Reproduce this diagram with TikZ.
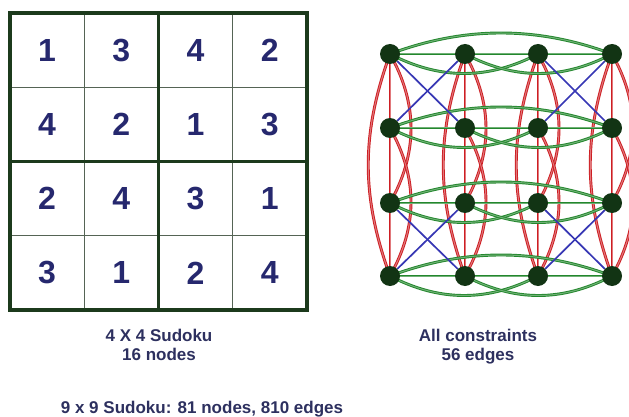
\documentclass[tikz,border=0pt]{standalone}
\usepackage{fontspec}
\setmainfont{Liberation Sans}
\usetikzlibrary{backgrounds,calc}
\definecolor{gridgreen}{RGB}{28,58,28}
\definecolor{thingrid}{RGB}{85,100,85}
\definecolor{digitblue}{RGB}{38,40,110}
\definecolor{labelblue}{RGB}{45,48,95}
\definecolor{vertexgreen}{RGB}{18,52,20}
\definecolor{rowgreen}{RGB}{35,135,45}
\definecolor{colred}{RGB}{205,30,35}
\definecolor{boxblue}{RGB}{55,55,180}
\begin{document}
\begin{tikzpicture}[x=1pt,y=-1pt,
  vertex/.style={circle,fill=vertexgreen,minimum size=20pt,inner sep=0pt},
  rowedge/.style={draw=rowgreen,line width=0.95pt,double=rowgreen!65,double distance=1pt},
  coledge/.style={draw=colred,line width=0.95pt,double=colred!60,double distance=1pt},
  boxedge/.style={draw=boxblue,line width=1.7pt},
  digit/.style={font=\fontsize{32}{32}\selectfont\bfseries,text=digitblue},
  caption/.style={font=\fontsize{17}{19}\selectfont\bfseries,text=labelblue,anchor=base}]
\useasboundingbox (0,0) rectangle (629,417);

% digits of the solved 4x4 puzzle
\foreach \row [count=\r from 0] in {{1,3,4,2},{4,2,1,3},{2,4,3,1},{3,1,2,4}} {
  \foreach \d [count=\c from 0] in \row {
    \node[digit] (d\r\c) at ({10+(\c+0.5)*74.25},{13+(\r+0.5)*74.25}) {\d};
  }
}
% thin cell lines
\foreach \k in {1,3} {
  \draw[thingrid,line width=1pt] ({10+\k*74.25},13) -- ({10+\k*74.25},310);
  \draw[thingrid,line width=1pt] (10,{13+\k*74.25}) -- (307,{13+\k*74.25});
}
% box lines and frame
\draw[gridgreen,line width=3.2pt] ({10+2*74.25},13) -- ({10+2*74.25},310);
\draw[gridgreen,line width=3.2pt] (10,{13+2*74.25}) -- (307,{13+2*74.25});
\draw[gridgreen,line width=3.5pt] (10,13) rectangle (307,310);

% constraint graph vertices
\foreach \r/\y in {0/54,1/128,2/203,3/276}
  \foreach \c/\x in {0/390,1/465,2/538,3/612}
    \node[vertex] (v\r\c) at (\x,\y) {};

\begin{scope}[on background layer]
  % column constraints
  \foreach \c in {0,1,2,3} {
    \draw[coledge] (v0\c) -- (v1\c);
    \draw[coledge] (v1\c) -- (v2\c);
    \draw[coledge] (v2\c) -- (v3\c);
    \draw[coledge] (v0\c.center) .. controls ($(v0\c)+(-29,80)$) and ($(v3\c)+(-29,-80)$) .. (v3\c.center);
    \draw[coledge] (v0\c.center) .. controls ($(v0\c)+(28,50)$) and ($(v2\c)+(28,-50)$) .. (v2\c.center);
    \draw[coledge] (v1\c.center) .. controls ($(v1\c)+(28,50)$) and ($(v3\c)+(28,-50)$) .. (v3\c.center);
  }
  % row constraints
  \foreach \r in {0,1,2,3} {
    \draw[rowedge] (v\r0) -- (v\r1);
    \draw[rowedge] (v\r1) -- (v\r2);
    \draw[rowedge] (v\r2) -- (v\r3);
    \draw[rowedge] (v\r0.center) .. controls ($(v\r0)+(75,-28)$) and ($(v\r3)+(-75,-28)$) .. (v\r3.center);
    \draw[rowedge] (v\r0.center) .. controls ($(v\r0)+(50,26)$) and ($(v\r2)+(-50,26)$) .. (v\r2.center);
    \draw[rowedge] (v\r1.center) .. controls ($(v\r1)+(50,26)$) and ($(v\r3)+(-50,26)$) .. (v\r3.center);
  }
  % box constraints
  \foreach \r/\s in {0/1,2/3}
    \foreach \c/\e in {0/1,2/3} {
      \draw[boxedge] (v\r\c) -- (v\s\e);
      \draw[boxedge] (v\r\e) -- (v\s\c);
    }
\end{scope}

% captions
\node[caption] (t1) at (159,341) {4 X 4 Sudoku};
\node[caption] (t2) at (159,360) {16 nodes};
\node[caption] (t3) at (478,341) {All constraints};
\node[caption] (t4) at (478,360) {56 edges};
\node[caption] (t5) at (202,413) {9 x 9 Sudoku: 81 nodes, 810 edges};
\end{tikzpicture}
\end{document}
